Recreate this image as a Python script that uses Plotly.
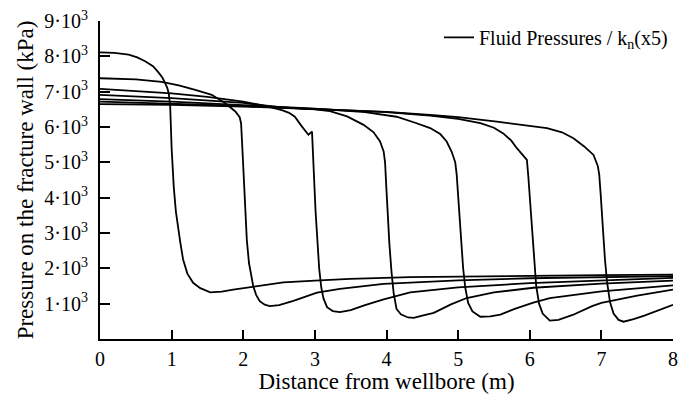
import plotly.graph_objects as go

# Curve data: fracture front at 1..7 m
x1 = [0, 0.2, 0.4, 0.52, 0.63, 0.74, 0.81, 0.87, 0.91, 0.94, 0.96, 0.98, 1.00, 1.03, 1.06, 1.09, 1.12, 1.16, 1.22, 1.30, 1.40, 1.54, 1.70, 1.86, 2.2, 2.56, 3.0, 3.49, 4.33, 5.0, 6.0, 7.0, 8.0]
y1 = [8110, 8100, 8050, 7970, 7860, 7720, 7560, 7400, 7240, 7100, 6950, 6580, 5400, 4300, 3600, 3100, 2750, 2250, 1850, 1590, 1440, 1320, 1340, 1400, 1500, 1600, 1650, 1700, 1750, 1770, 1790, 1810, 1820]

x2 = [0, 0.5, 0.86, 1.1, 1.33, 1.56, 1.75, 1.89, 1.95, 1.97, 1.99, 2.01, 2.03, 2.05, 2.08, 2.11, 2.14, 2.18, 2.23, 2.30, 2.37, 2.5, 2.7, 3.03, 3.35, 3.96, 4.33, 5.0, 6.0, 7.0, 8.0]
y2 = [7380, 7350, 7280, 7180, 7050, 6910, 6670, 6440, 6280, 6100, 5300, 4300, 3500, 2800, 2150, 1750, 1490, 1250, 1070, 970, 930, 960, 1080, 1310, 1420, 1560, 1600, 1660, 1720, 1750, 1780]

x3 = [0, 0.5, 1.0, 1.5, 2.0, 2.35, 2.54, 2.64, 2.72, 2.82, 2.91, 2.96, 2.97, 2.99, 3.01, 3.03, 3.06, 3.09, 3.12, 3.17, 3.25, 3.35, 3.5, 3.7, 3.96, 4.33, 5.0, 6.0, 7.0, 8.0]
y3 = [7080, 7020, 6950, 6850, 6720, 6580, 6480, 6400, 6290, 6010, 5780, 5870, 5500, 4500, 3600, 2800, 2000, 1450, 1150, 900, 790, 760, 820, 960, 1120, 1320, 1460, 1580, 1660, 1730]

x4 = [0, 1.0, 2.0, 2.5, 3.0, 3.21, 3.45, 3.68, 3.82, 3.91, 3.96, 3.98, 4.00, 4.02, 4.04, 4.07, 4.10, 4.14, 4.20, 4.30, 4.38, 4.5, 4.66, 4.9, 5.12, 5.5, 6.05, 7.0, 8.0]
y4 = [6910, 6820, 6680, 6560, 6500, 6450, 6300, 6060, 5850, 5590, 5310, 5000, 4200, 3400, 2700, 1900, 1300, 850, 700, 610, 600, 660, 740, 980, 1160, 1320, 1450, 1570, 1650]

x5 = [0, 1.0, 2.0, 3.0, 3.7, 4.14, 4.4, 4.61, 4.75, 4.84, 4.91, 4.96, 4.98, 5.00, 5.02, 5.05, 5.07, 5.10, 5.14, 5.20, 5.31, 5.45, 5.59, 5.8, 6.05, 6.28, 7.0, 8.0]
y5 = [6790, 6720, 6620, 6520, 6420, 6290, 6120, 5970, 5800, 5590, 5300, 5000, 4650, 4000, 3300, 2500, 2000, 1450, 1020, 780, 630, 640, 690, 860, 1030, 1160, 1350, 1520]

x6 = [0, 1.0, 2.0, 3.0, 4.0, 4.61, 5.0, 5.31, 5.5, 5.63, 5.74, 5.82, 5.90, 5.96, 5.98, 6.00, 6.02, 6.04, 6.06, 6.09, 6.13, 6.18, 6.28, 6.4, 6.6, 6.87, 7.0, 7.5, 8.0]
y6 = [6720, 6670, 6600, 6510, 6420, 6320, 6230, 6110, 5980, 5820, 5620, 5400, 5200, 5070, 4600, 4000, 3300, 2700, 2100, 1500, 1000, 720, 520, 540, 680, 930, 1020, 1230, 1400]

x7 = [0, 1.0, 2.0, 3.0, 4.0, 4.61, 5.0, 5.54, 5.9, 6.24, 6.45, 6.61, 6.76, 6.89, 6.95, 6.97, 6.99, 7.01, 7.03, 7.05, 7.08, 7.12, 7.17, 7.24, 7.31, 7.45, 7.6, 7.8, 8.0]
y7 = [6650, 6630, 6580, 6510, 6430, 6340, 6280, 6150, 6060, 5970, 5850, 5680, 5450, 5210, 4900, 4650, 4100, 3400, 2800, 2250, 1600, 1050, 720, 540, 490, 560, 660, 820, 970]

y_tickvals = [1000, 2000, 3000, 4000, 5000, 6000, 7000, 8000, 9000]
y_ticktext = [f"{i}·10<sup>3</sup>" for i in range(1, 10)]
x_tickvals = [0, 1, 2, 3, 4, 5, 6, 7, 8]

series = [(x1, y1), (x2, y2), (x3, y3), (x4, y4), (x5, y5), (x6, y6), (x7, y7)]

FONT = "Liberation Serif, Times New Roman, serif"

fig = go.Figure()
for i, (xs, ys) in enumerate(series):
    fig.add_trace(go.Scatter(
        x=xs, y=ys, mode="lines",
        line=dict(color="black", width=1.8),
        name="Fluid Pressures / k<sub>n</sub>(x5)",
        legendgroup="fp",
        showlegend=(i == 0),
    ))

fig.update_layout(
    width=693, height=394,
    margin=dict(l=100, r=20, t=21, b=54.5),
    paper_bgcolor="white", plot_bgcolor="white",
    font=dict(family=FONT, size=20, color="black"),
    legend=dict(x=1.0, y=1.01, xanchor="right", yanchor="top",
                bgcolor="rgba(0,0,0,0)", font=dict(size=20)),
    xaxis=dict(
        range=[0, 8], tickvals=x_tickvals,
        showline=True, linecolor="black", linewidth=2,
        ticks="inside", ticklen=9, tickwidth=2, tickcolor="black",
        showgrid=False, zeroline=False, automargin=False,
        ticklabelstandoff=1,
        title=dict(text="Distance from wellbore (m)", font=dict(size=23), standoff=0),
        tickfont=dict(size=20),
    ),
    yaxis=dict(
        range=[0, 9000], tickvals=y_tickvals, ticktext=y_ticktext,
        showline=True, linecolor="black", linewidth=2,
        ticks="inside", ticklen=10, tickwidth=2, tickcolor="black",
        showgrid=False, zeroline=False, automargin=False,
        ticklabelstandoff=6,
        title=dict(text="Pressure on the fracture wall (kPa)", font=dict(size=23), standoff=4),
        tickfont=dict(size=20),
    ),
)

fig.write_html("out.html")
